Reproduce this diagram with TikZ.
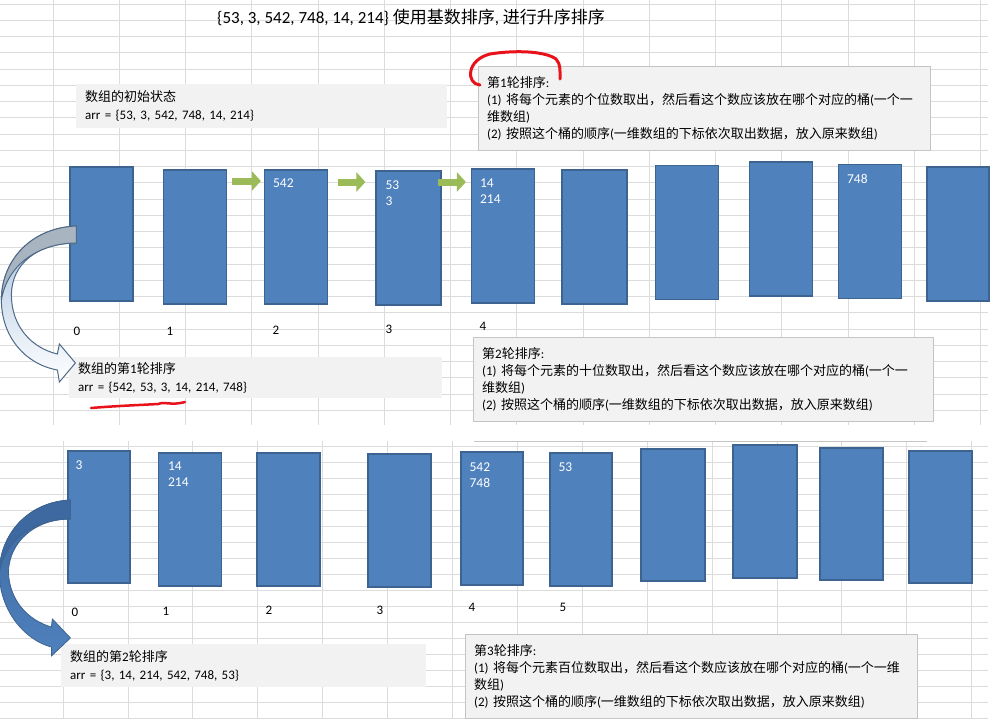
\documentclass[tikz,border=0pt]{standalone}
\usepackage{fontspec}
\setmainfont{Carlito}
\newfontfamily\zhfont{Noto Sans CJK SC}
\newcommand{\zh}[1]{{\zhfont #1}}
\usetikzlibrary{arrows.meta}

\definecolor{bucketblue}{HTML}{4F81BD}
\definecolor{bucketedge}{HTML}{3D6391}
\definecolor{pushgreen}{HTML}{9BBB59}
\definecolor{memogray}{HTML}{F2F2F2}
\definecolor{memoedge}{HTML}{C4C4C4}
\definecolor{gridgray}{HTML}{DCDCDC}
\definecolor{inkred}{HTML}{E8121A}
\definecolor{bendedge}{HTML}{4E6A88}
\definecolor{bendlight}{HTML}{A9C3DF}
\definecolor{bendgray}{HTML}{A8B5C1}
\definecolor{benddark}{HTML}{3E69A0}

\tikzset{
  bucket/.style={draw=bucketedge, fill=bucketblue, line width=1.2pt, minimum width=63pt, minimum height=134pt, inner sep=0pt},
  digits/.style={anchor=north west, inner sep=0pt, align=left, text=white, font=\fontsize{13.5}{16}\selectfont},
  slot/.style={inner sep=0pt, font=\fontsize{13}{15}\selectfont},
  memo/.style={anchor=north west, fill=memogray, inner xsep=9pt, inner ysep=0pt, align=left, font=\fontsize{13}{18}\selectfont},
  framedmemo/.style={memo, draw=memoedge, font=\fontsize{13}{17}\selectfont},
  push/.style={draw=pushgreen, line width=7pt, -{Triangle[length=9pt, width=19pt]}},
  gridline/.style={draw=gridgray, line width=0.8pt},
  ink/.style={draw=inkred, line width=3pt, line cap=round}
}

\begin{document}
\begin{tikzpicture}[x=1pt, y=-1pt]

     \fill[white] (0,0) rectangle (995,718);
     \useasboundingbox (0,0) rectangle (995,718);

     % sheet grid, upper half
     \foreach \k in {0,...,14} \draw[gridline] ({53+66.25*\k},0) -- ({53+66.25*\k},425);
     \foreach \k in {0,...,25} \draw[gridline] (0,{4+16.25*\k}) -- (988,{4+16.25*\k});
     % sheet grid, lower half
     \foreach \k in {0,...,14} \draw[gridline] ({63+64.9*\k},441) -- ({63+64.9*\k},718);
     \foreach \k in {0,...,17} \draw[gridline] (0,{446+16*\k}) -- (988,{446+16*\k});
     \draw[memoedge] (474,441) -- (927,441);

     \node (title) at (217,17) [anchor=west, inner sep=0pt, font=\fontsize{17}{20}\selectfont] {\{53, 3, 542, 748, 14, 214\} \zh{使用基数排序}, \zh{进行升序排序}};

     % buckets, first pass
     \node (a0) at (101.5,234) [bucket] {};
     \node (a1) at (195,237) [bucket] {};
     \node (a2) at (296,237) [bucket] {};
     \node (a3) at (408.5,238) [bucket, minimum width=65pt] {};
     \node (a4) at (503,236) [bucket] {};
     \node (a5) at (594.5,237) [bucket, minimum width=65pt] {};
     \node (a6) at (687,232.5) [bucket] {};
     \node (a7) at (781,229) [bucket] {};
     \node (a8) at (870,231.5) [bucket] {};
     \node (a9) at (958,234) [bucket, minimum width=62pt] {};

     \node (v2) at ([shift={(9,9)}]a2.north west) [digits] {542};
     \node (v3) at ([shift={(10,10)}]a3.north west) [digits] {53\\3};
     \node (v4) at ([shift={(9,10)}]a4.north west) [digits] {14\\214};
     \node (v8) at ([shift={(9,10)}]a8.north west) [digits] {748};

     \node (p0) at (77,331) [slot] {0};
     \node (p1) at (170,331) [slot] {1};
     \node (p2) at (276,330) [slot] {2};
     \node (p3) at (389,329) [slot] {3};
     \node (p4) at (483,326) [slot] {4};

     % buckets, second pass
     \node (b0) at (99,517) [bucket, minimum width=62pt, minimum height=132pt] {};
     \node (b1) at (190,519.5) [bucket, minimum height=133pt] {};
     \node (b2) at (288.5,519.5) [bucket, minimum height=133pt] {};
     \node (b3) at (399.5,520.5) [bucket, minimum height=133pt] {};
     \node (b4) at (492,518.5) [bucket, minimum width=62pt, minimum height=133pt] {};
     \node (b5) at (581,519.5) [bucket, minimum width=62pt, minimum height=133pt] {};
     \node (b6) at (673,515) [bucket, minimum width=64pt, minimum height=132pt] {};
     \node (b7) at (765,511.5) [bucket, minimum width=64pt, minimum height=133pt] {};
     \node (b8) at (851.5,514) [bucket, minimum height=132pt] {};
     \node (b9) at (940.5,517) [bucket, minimum height=132pt] {};

     \node (w0) at ([shift={(8,10)}]b0.north west) [digits] {3};
     \node (w1) at ([shift={(10,9)}]b1.north west) [digits] {14\\214};
     \node (w4) at ([shift={(9,11)}]b4.north west) [digits] {542\\748};
     \node (w5) at ([shift={(9,10)}]b5.north west) [digits] {53};

     \node (q0) at (75,612) [slot] {0};
     \node (q1) at (166,611) [slot] {1};
     \node (q2) at (269,610) [slot] {2};
     \node (q3) at (380,610) [slot] {3};
     \node (q4) at (472,607) [slot] {4};
     \node (q5) at (563,607) [slot] {5};

     % notes
     \node (m0) at (76,84) [memo, minimum width=371pt, minimum height=44pt, text width=353pt]
          {\zh{数组的初始状态}\\arr = \{53, 3, 542, 748, 14, 214\}};
     \node (m1) at (478,66) [framedmemo, minimum width=452pt, minimum height=84pt, text width=434pt]
          {\zh{第}1\zh{轮排序}:\\
           (1)~\zh{将每个元素的个位数取出，然后看这个数应该放在哪个对应的桶}(\zh{一个一}\\
           \zh{维数组})\\
           (2)~\zh{按照这个桶的顺序}(\zh{一维数组的下标依次取出数据，放入原来数组})};
     \node (m2) at (69,357) [memo, minimum width=373pt, minimum height=41pt, text width=355pt]
          {\zh{数组的第}1\zh{轮排序}\\arr = \{542, 53, 3, 14, 214, 748\}};
     \node (m3) at (473,337) [framedmemo, minimum width=460pt, minimum height=84pt, text width=442pt]
          {\zh{第}2\zh{轮排序}:\\
           (1)~\zh{将每个元素的十位数取出，然后看这个数应该放在哪个对应的桶}(\zh{一个一}\\
           \zh{维数组})\\
           (2)~\zh{按照这个桶的顺序}(\zh{一维数组的下标依次取出数据，放入原来数组})};
     \node (m4) at (61,644) [memo, minimum width=365pt, minimum height=43pt, text width=347pt]
          {\zh{数组的第}2\zh{轮排序}\\arr = \{3, 14, 214, 542, 748, 53\}};
     \node (m5) at (465,634) [framedmemo, minimum width=452pt, minimum height=84pt, text width=434pt]
          {\zh{第}3\zh{轮排序}:\\
           (1)~\zh{将每个元素百位数取出，然后看这个数应该放在哪个对应的桶}(\zh{一个一维}\\
           \zh{数组})\\
           (2)~\zh{按照这个桶的顺序}(\zh{一维数组的下标依次取出数据，放入原来数组})};

     % green pushes between buckets
     \draw[push] ([xshift=5pt, yshift=56pt]a1.east) -- ([xshift=-3pt, yshift=56pt]a2.west);
     \draw[push] ([xshift=10pt, yshift=55pt]a2.east) -- ([xshift=-10pt, yshift=56pt]a3.west);
     \draw[push] ([xshift=-4pt, yshift=56pt]a3.east) -- ([xshift=-5pt, yshift=54pt]a4.west);

     % bent arrow a0 -> m2
     \begin{scope}[shift={(a0.west)}]
       \path[draw=bendedge, line width=1pt, top color=bendlight, bottom color=white]
         (7,-8) .. controls (-40,-6) and (-68,28) .. (-68,66)
         .. controls (-68,102) and (-45,130) .. (-12,136)
         -- (-10,148) -- (6,129) -- (-10,110) -- (-12,120)
         .. controls (-38,114) and (-58,92) .. (-58,61)
         .. controls (-58,30) and (-32,9) .. (7,9) -- cycle;
       \path[draw=bendedge, line width=1pt, fill=bendgray]
         (7,-8) .. controls (-40,-6) and (-68,28) .. (-68,66)
         .. controls (-62,30) and (-30,9) .. (7,9) -- cycle;
     \end{scope}

     % bent arrow b0 -> m4
     \begin{scope}[shift={(b0.west)}]
       \path[draw=bucketedge, line width=0.8pt, top color=benddark, bottom color=bucketblue]
         (3,-17) .. controls (-40,-15) and (-68,18) .. (-68,56)
         .. controls (-68,93) and (-43,123) .. (-16,130)
         -- (-16,139) -- (3,121) -- (-15,102) -- (-16,110)
         .. controls (-40,103) and (-58,83) .. (-59,55)
         .. controls (-58,25) and (-33,2) .. (3,2) -- cycle;
       \path[draw=bucketedge, line width=0.8pt, fill=benddark]
         (3,-17) .. controls (-40,-15) and (-68,18) .. (-68,56)
         .. controls (-63,22) and (-33,2) .. (3,2) -- cycle;
     \end{scope}

     % red marks
     \draw[ink] (480,85) .. controls (466,84) and (466,60) .. (490,54)
                .. controls (515,50) and (545,51) .. (556,59)
                .. controls (561,64) and (560,72) .. (560,79);
     \draw[ink, line width=2.5pt] (91,408) .. controls (115,406) and (140,405) .. (158,404)
                .. controls (166,401) and (170,406) .. (185,402);

 \end{tikzpicture}
\end{document}
